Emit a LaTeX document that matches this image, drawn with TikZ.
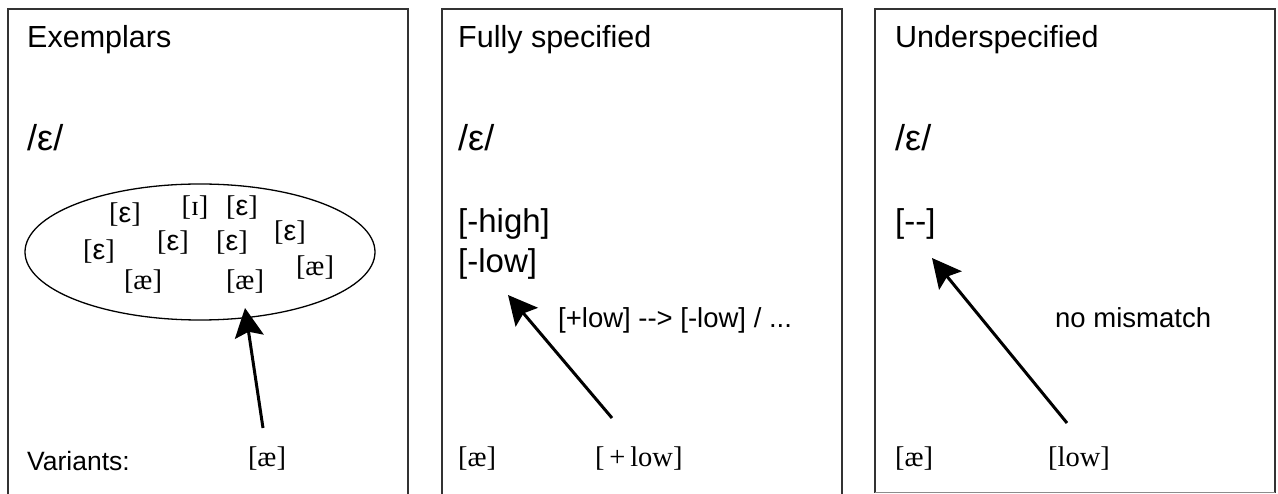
\documentclass[tikz,border=0pt]{standalone}
\usepackage{fontspec}
\setmainfont{Liberation Serif}
\setsansfont{Liberation Sans}
\usetikzlibrary{arrows.meta,shapes.geometric}
\newcommand{\eps}{{\sffamily ε}}
\begin{document}
\begin{tikzpicture}[x=1pt,y=-1pt,
  box/.style={draw=black!80, line width=1.3pt},
  ttl/.style={font=\sffamily\fontsize{30.5}{36}\selectfont, anchor=base west, inner sep=0},
  phon/.style={font=\sffamily\fontsize{36}{42}\selectfont, anchor=base west, inner sep=0},
  feat/.style={font=\sffamily\fontsize{33}{39}\selectfont, anchor=base west, inner sep=0},
  lbl/.style={font=\sffamily\fontsize{27.5}{33}\selectfont, anchor=base west, inner sep=0},
  ipa/.style={font=\fontsize{28.5}{34}\selectfont, inner sep=0},
  arr/.style={line width=3pt, -{Stealth[length=29pt,width=29pt,inset=5pt]}}]
\useasboundingbox (0,0) rectangle (1278,494);
% boxes
\draw[box] (8,500) -- (8,9) -- (408,9) -- (408,500);
\draw[box] (442,500) -- (442,9) -- (842,9) -- (842,500);
\draw[box] (875,492.5) -- (875,9) -- (1275,9) -- (1275,492.5);
\draw[draw=black!45, line width=1.3pt] (875,492.5) -- (1275,492.5);
% box 1
\node[ttl] (t1) at (27,48) {Exemplars};
\node[phon] (p1) at (27,151) {/ε/};
\node[draw=black, line width=1.3pt, ellipse, minimum width=350, minimum height=136, inner sep=0] (cloud) at (200,252) {};
\node[ipa] (e1) at (125,215) {[\eps]};
\node[ipa] (i1) at (195,208) {[ɪ]};
\node[ipa] (e2) at (242,208) {[\eps]};
\node[ipa] (e3) at (290,233) {[\eps]};
\node[ipa] (e4) at (99,252) {[\eps]};
\node[ipa] (e5) at (173,243) {[\eps]};
\node[ipa] (e6) at (232,243) {[\eps]};
\node[ipa] (a1) at (315,268) {[æ]};
\node[ipa] (a2) at (143,282) {[æ]};
\node[ipa] (a3) at (245,282) {[æ]};
\node[font=\sffamily\fontsize{26.5}{31}\selectfont, anchor=base west, inner sep=0] (var) at (27,470) {Variants:};
\node[ipa] (v1) at (267,459) {[æ]};
\coordinate (s1) at (263,428);
\coordinate (h1) at (245,308);
\draw[arr] (s1) -- (h1);
% box 2
\node[ttl] (t2) at (458,48) {Fully specified};
\node[phon] (p2) at (458,151) {/ε/};
\node[feat] (f1) at (458,233) {[-high]};
\node[feat] (f2) at (458,273) {[-low]};
\node[lbl] (rule) at (558,328) {[+low] {-}{-}> [-low] / ...};
\node[ipa, anchor=west] (v2) at (458,459) {[æ]};
\node[ipa, anchor=west] (v3) at (595,459) {[\,+\,low]};
\coordinate (s2) at (612,418);
\coordinate (h2) at (508,295);
\draw[arr] (s2) -- (h2);
% box 3
\node[ttl] (t3) at (895,48) {Underspecified};
\node[phon] (p3) at (895,151) {/ε/};
\node[feat] (f3) at (895,233) {[{-}{-}]};
\node[lbl] (nm) at (1055,328) {no mismatch};
\node[ipa, anchor=west] (v4) at (895,459) {[æ]};
\node[ipa, anchor=west] (v5) at (1048,459) {[low]};
\coordinate (s3) at (1067,423);
\coordinate (h3) at (932,258);
\draw[arr] (s3) -- (h3);
\end{tikzpicture}
\end{document}
